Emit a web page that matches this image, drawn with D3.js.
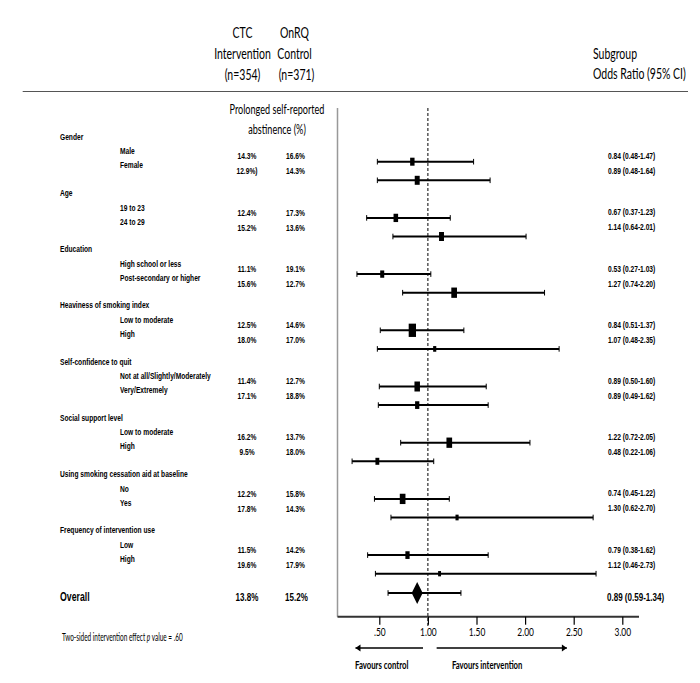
<!DOCTYPE html>
<html>
<head>
<meta charset="utf-8">
<script src="https://cdn.jsdelivr.net/npm/d3@7"></script>
<style>
  html, body { margin: 0; padding: 0; background: #fff; }
  svg { display: block; }
</style>
</head>
<body>
<svg id="chart" width="700" height="683"></svg>
<script>
// ---------------- DATA ----------------
const groups = ["Gender", "Age", "Education", "Heaviness of smoking index",
  "Self-confidence to quit", "Social support level",
  "Using smoking cessation aid at baseline", "Frequency of intervention use"];
const subgroups = [
  ["Male", "Female"], ["19 to 23", "24 to 29"],
  ["High school or less", "Post-secondary or higher"],
  ["Low to moderate", "High"],
  ["Not at all/Slightly/Moderately", "Very/Extremely"],
  ["Low to moderate", "High"], ["No", "Yes"], ["Low", "High"]];
const ctcPct = ["14.3%", "12.9%)", "12.4%", "15.2%", "11.1%", "15.6%", "12.5%", "18.0%",
  "11.4%", "17.1%", "16.2%", "9.5%", "12.2%", "17.8%", "11.5%", "19.6%"];
const onrqPct = ["16.6%", "14.3%", "17.3%", "13.6%", "19.1%", "12.7%", "14.6%", "17.0%",
  "12.7%", "18.8%", "13.7%", "18.0%", "15.8%", "14.3%", "14.2%", "17.9%"];
const oddsRatio = [0.84, 0.89, 0.67, 1.14, 0.53, 1.27, 0.84, 1.07, 0.89, 0.89, 1.22, 0.48, 0.74, 1.30, 0.79, 1.12];
const ciLow = [0.48, 0.48, 0.37, 0.64, 0.27, 0.74, 0.51, 0.48, 0.50, 0.49, 0.72, 0.22, 0.45, 0.62, 0.38, 0.46];
const ciHigh = [1.47, 1.64, 1.23, 2.01, 1.03, 2.20, 1.37, 2.35, 1.60, 1.62, 2.05, 1.06, 1.22, 2.70, 1.62, 2.73];
const weights = [8, 9, 8.3, 9, 7.3, 10.3, 13.3, 5.7, 10, 7.7, 10.3, 7, 10.3, 5.7, 7.7, 5.3];
const overallLabel = "Overall";
const overallCtc = "13.8%";
const overallOnrq = "15.2%";
const overallOR = 0.89, overallLow = 0.59, overallHigh = 1.34;
const tickValues = [0.5, 1, 1.5, 2, 2.5, 3];
const tickLabels = [".50", "1.00", "1.50", "2.00", "2.50", "3.00"];
const colHeaders = [["CTC", "Intervention", "(n=354)"], ["OnRQ", "Control", "(n=371)"]];
const orHeader = ["Subgroup", "Odds Ratio (95% CI)"];
const pctHeader = ["Prolonged self-reported", "abstinence (%)"];
const favours = ["Favours control", "Favours intervention"];

// ---------------- LAYOUT ----------------
const svg = d3.select("#chart");
const SX = 0.7;                       // horizontal compression of the original figure
const ARIAL = "'Liberation Sans', Arial, sans-serif";
const CALI = "Lato, 'Open Sans', sans-serif";

const x = d3.scaleLinear().domain([0.5, 3]).range([379.3, 622.3]);
const plotLeft = 337.5, plotRight = 639, plotTop = 108, axisY = 616.7;
const gy = d3.scaleLinear().domain([0, 1]).range([161.7, 217.9]); // group index -> first CI row
const rowGap = 18.6;
const overallY = 593;
const boxH = d3.scaleLinear().domain([0, 10]).range([0, 10]);

function txt(parent, px, py, str, o) {
  const t = parent.append("text")
    .attr("transform", `translate(${px},${py}) scale(${o.sx || SX},1)`)
    .attr("text-anchor", o.anchor || "start")
    .attr("font-family", o.family || ARIAL)
    .attr("font-size", o.size || 9.5)
    .attr("font-weight", o.weight || "bold")
    .attr("fill", o.fill || "#000");
  if (o.central) t.attr("dy", "0.35em");
  t.text(str);
  return t;
}

// header
colHeaders.forEach((lines, j) => {
  const cx = j === 0 ? 242.5 : 294.5;
  lines.forEach((s, k) => txt(svg, cx + (k === 2 && j === 1 ? 2 : 0), 38 + k * 21, s,
    { anchor: "middle", family: CALI, size: 15, weight: "normal" }));
});
orHeader.forEach((s, k) => txt(svg, 593, 59 + k * 20, s,
  { family: CALI, size: 15, weight: "normal" }));
svg.append("line").attr("x1", 22.7).attr("x2", 688).attr("y1", 91.5).attr("y2", 91.5)
  .attr("stroke", "#555").attr("stroke-width", 1);
pctHeader.forEach((s, k) => txt(svg, 277, 114 + k * 19.5, s,
  { anchor: "middle", family: CALI, size: 13, weight: "normal" }));

// plot frame
svg.append("line").attr("x1", plotLeft).attr("x2", plotLeft).attr("y1", plotTop).attr("y2", axisY)
  .attr("stroke", "#999").attr("stroke-width", 1.5);
svg.append("line").attr("x1", x(1)).attr("x2", x(1)).attr("y1", plotTop).attr("y2", axisY + 10)
  .attr("stroke", "#000").attr("stroke-width", 1).attr("stroke-dasharray", "3,2");

// rows
const rows = [];
groups.forEach((g, i) => {
  const c = gy(i);
  txt(svg, 60, c - 25.3, g, { central: true });
  subgroups[i].forEach((s, k) => {
    const idx = i * 2 + k;
    rows.push({ idx, y: c + k * rowGap });
    txt(svg, 120, c - 10.7 + k * 14, s, { central: true });
    txt(svg, 247, c - 5.7 + k * 15, ctcPct[idx], { anchor: "middle", central: true });
    txt(svg, 295.5, c - 5.7 + k * 15, onrqPct[idx], { anchor: "middle", central: true });
    txt(svg, 608, c - 5.9 + k * 15, `${oddsRatio[idx].toFixed(2)} (${ciLow[idx].toFixed(2)}-${ciHigh[idx].toFixed(2)})`,
      { central: true });
  });
});

const ci = svg.append("g");
rows.forEach(r => {
  const i = r.idx;
  ci.append("line").attr("x1", x(ciLow[i])).attr("x2", x(ciHigh[i])).attr("y1", r.y).attr("y2", r.y)
    .attr("stroke", "#000").attr("stroke-width", 2);
  [ciLow[i], ciHigh[i]].forEach(v => ci.append("line").attr("x1", x(v)).attr("x2", x(v))
    .attr("y1", r.y - 2.8).attr("y2", r.y + 2.8).attr("stroke", "#000").attr("stroke-width", 1));
  const h = boxH(weights[i]), w = h * 0.55;
  ci.append("rect").attr("x", x(oddsRatio[i]) - w / 2).attr("y", r.y - h / 2)
    .attr("width", w).attr("height", h).attr("fill", "#000");
});

// overall
txt(svg, 60, overallY + 4, overallLabel, { central: true, size: 12.5 });
txt(svg, 247, overallY + 4, overallCtc, { anchor: "middle", central: true, size: 11.5 });
txt(svg, 296.5, overallY + 4, overallOnrq, { anchor: "middle", central: true, size: 11.5 });
txt(svg, 607, overallY + 4, `${overallOR.toFixed(2)} (${overallLow.toFixed(2)}-${overallHigh.toFixed(2)})`,
  { central: true, size: 11.5 });
ci.append("line").attr("x1", x(overallLow)).attr("x2", x(overallHigh)).attr("y1", overallY).attr("y2", overallY)
  .attr("stroke", "#000").attr("stroke-width", 2);
[overallLow, overallHigh].forEach(v => ci.append("line").attr("x1", x(v)).attr("x2", x(v))
  .attr("y1", overallY - 2.8).attr("y2", overallY + 2.8).attr("stroke", "#000").attr("stroke-width", 1));
const dw = 5.5, dh = 11;
ci.append("path").attr("d",
  `M${x(overallOR) - dw},${overallY} L${x(overallOR)},${overallY - dh} L${x(overallOR) + dw},${overallY} L${x(overallOR)},${overallY + dh} Z`)
  .attr("fill", "#000");

// axis
svg.append("line").attr("x1", plotLeft).attr("x2", plotRight).attr("y1", axisY).attr("y2", axisY)
  .attr("stroke", "#333").attr("stroke-width", 2);
const axis = d3.axisBottom(x).tickValues(tickValues).tickFormat((d, k) => tickLabels[k])
  .tickSize(8).tickPadding(3);
const ag = svg.append("g").attr("transform", `translate(0,${axisY})`).call(axis);
ag.select(".domain").remove();
ag.selectAll(".tick line").attr("stroke", "#000").attr("stroke-width", 1.2);
ag.selectAll(".tick text")
  .attr("font-family", CALI).attr("font-size", 12).attr("fill", "#000")
  .attr("text-anchor", "middle")
  .attr("transform", `scale(${SX},1)`)
  .attr("x", 0);

// p value note
const pv = svg.append("text")
  .attr("transform", `translate(62,${637}) scale(0.56,1)`)
  .attr("dy", "0.35em")
  .attr("font-family", CALI).attr("font-size", 11.5).attr("fill", "#000");
pv.append("tspan").text("Two-sided intervention effect ");
pv.append("tspan").attr("font-style", "italic").text("p");
pv.append("tspan").text(" value = .60");

// favour arrows
const arrowY = 648;
function arrow(xFrom, xTo) {
  svg.append("line").attr("x1", xFrom).attr("x2", xTo).attr("y1", arrowY).attr("y2", arrowY)
    .attr("stroke", "#000").attr("stroke-width", 1.5);
  const dir = xTo < xFrom ? -1 : 1;
  svg.append("path").attr("d",
    `M${xTo},${arrowY} L${xTo - dir * 5},${arrowY - 3.5} L${xTo - dir * 5},${arrowY + 3.5} Z`)
    .attr("fill", "#000");
}
arrow(x(0.95), x(0.255));
arrow(x(1.09), x(2.43));
txt(svg, 355, 665, favours[0], { family: CALI, size: 12, central: true, sx: 0.65 });
txt(svg, 452, 665, favours[1], { family: CALI, size: 12, central: true, sx: 0.64 });
</script>
</body>
</html>
